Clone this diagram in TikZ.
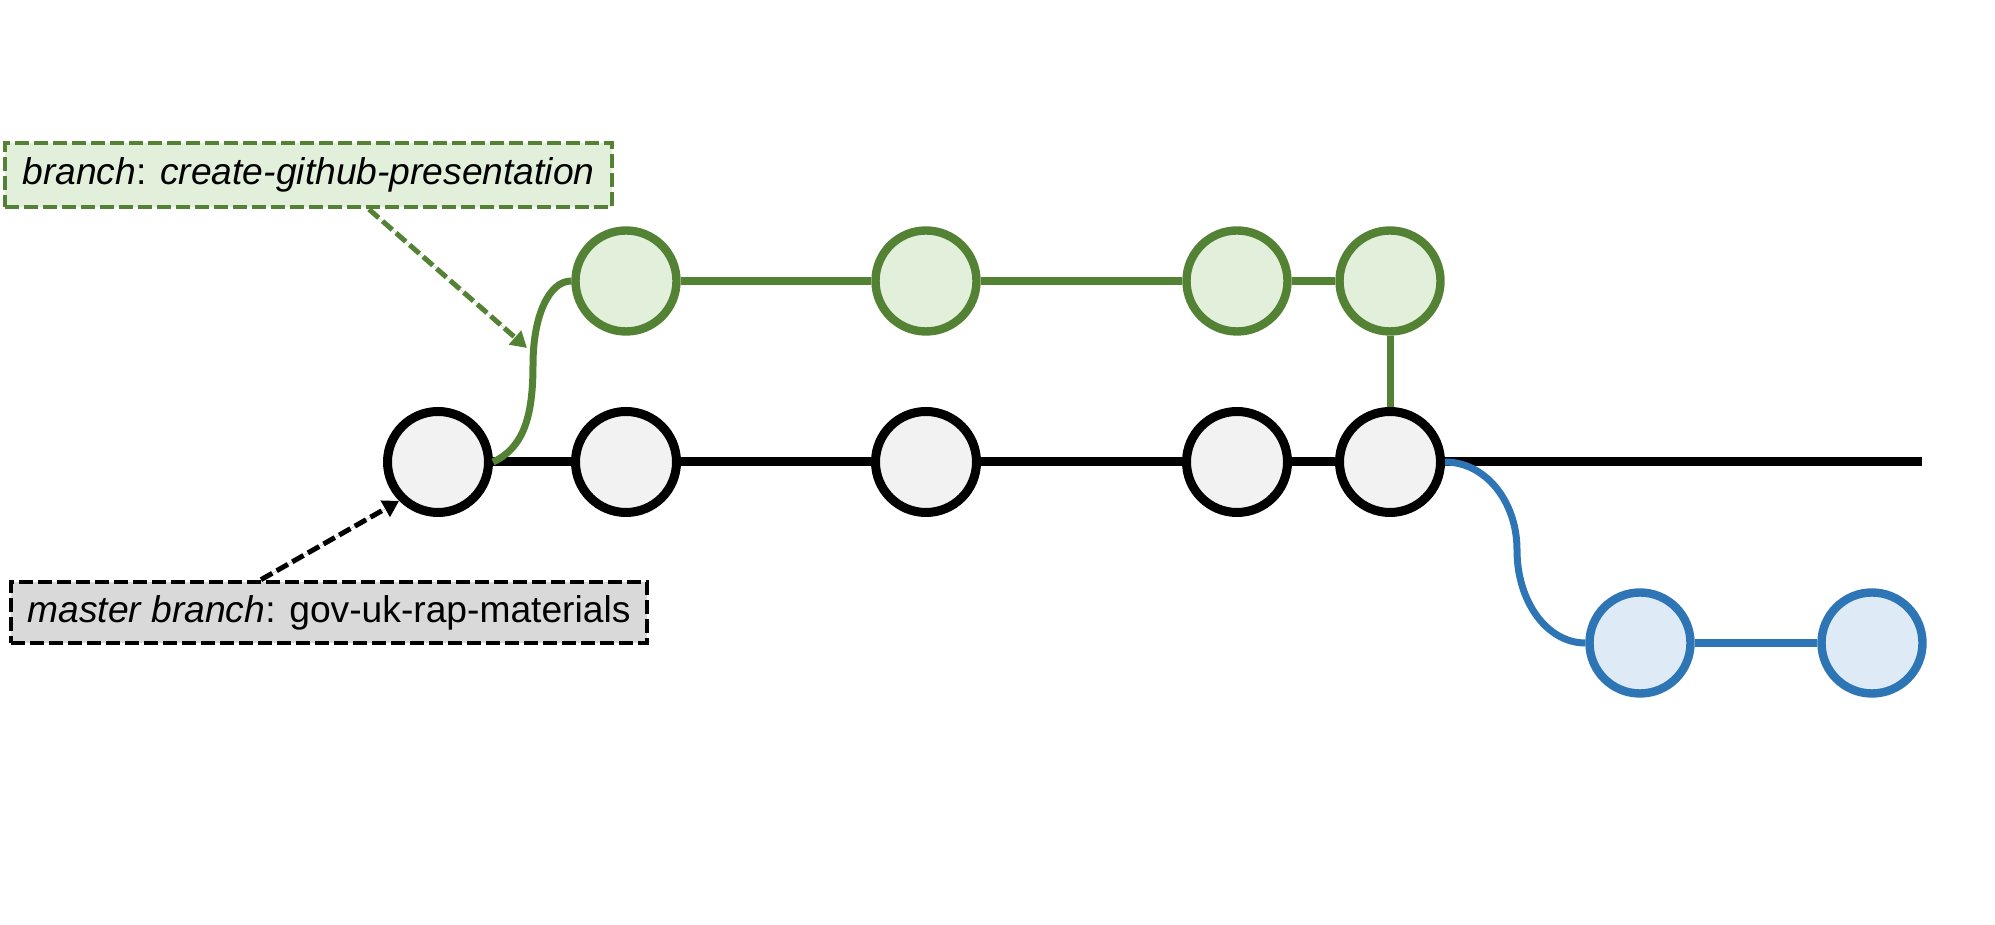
\documentclass[tikz,border=0pt]{standalone}
\usepackage{fontspec}
\setmainfont{Liberation Sans}
\usetikzlibrary{arrows.meta}
\definecolor{gline}{HTML}{548235}
\definecolor{gfill}{HTML}{E2EFDA}
\definecolor{bline}{HTML}{2E75B6}
\definecolor{bfill}{HTML}{DEEBF7}
\definecolor{kfill}{HTML}{F2F2F2}
\definecolor{mfill}{HTML}{D9D9D9}
\begin{document}
\begin{tikzpicture}[x=0.5pt,y=0.5pt,
  commit/.style={circle,inner sep=0pt,minimum size=50.5pt,line width=4.5pt},
  kcommit/.style={commit,draw=black,fill=kfill},
  gcommit/.style={commit,draw=gline,fill=gfill,line width=4.2pt},
  ucommit/.style={commit,draw=bline,fill=bfill,line width=4.2pt},
  kline/.style={draw=black,line width=4.5pt},
  gline/.style={draw=gline,line width=4pt},
  uline/.style={draw=bline,line width=4pt},
  curvy/.style={line width=3.5pt},
  lbox/.style={rectangle,line width=2.3pt,dash pattern=on 7pt off 2.5pt,inner sep=0pt,font=\fontsize{18.6}{22}\selectfont},
  darrow/.style={line width=2.5pt,dash pattern=on 6.5pt off 2.5pt,-{Triangle[length=8pt,width=9pt]}}
]
\useasboundingbox (0,0) rectangle (1995,925);
% master commits
\node[kcommit] (b1) at (438,463) {};
\node[kcommit] (b2) at (626,463) {};
\node[kcommit] (b3) at (926,463) {};
\node[kcommit] (b4) at (1237,463) {};
\node[kcommit] (b5) at (1390,463) {};
% green branch commits
\node[gcommit] (g1) at (626,644) {};
\node[gcommit] (g2) at (926,644) {};
\node[gcommit] (g3) at (1237,644) {};
\node[gcommit] (g4) at (1390,644) {};
% blue commits
\node[ucommit] (u1) at (1640,282) {};
\node[ucommit] (u2) at (1872,282) {};
\coordinate (mend) at (1922,463);
\coordinate (gmid) at (533,560);
\coordinate (umid) at (1517,375);
% lines
\draw[kline] (b1.east) -- (b2.west);
\draw[kline] (b2.east) -- (b3.west);
\draw[kline] (b3.east) -- (b4.west);
\draw[kline] (b4.east) -- (b5.west);
\draw[kline] (b5.east) -- (mend);
\draw[gline] (g1.east) -- (g2.west);
\draw[gline] (g2.east) -- (g3.west);
\draw[gline] (g3.east) -- (g4.west);
\draw[draw=gline,line width=3.5pt] (g4.south) -- (b5.north);
\draw[uline] (u1.east) -- (u2.west);
\draw[draw=gline,curvy] (b1.east)
  to[out=25,in=-90,out looseness=0.8,in looseness=1.3] (gmid)
  to[out=90,in=180,out looseness=1.4,in looseness=0.6] (g1.west);
\draw[draw=bline,curvy] (b5.east)
  to[out=0,in=90,out looseness=0.9,in looseness=1.1] (umid)
  to[out=-90,in=180,out looseness=1.15,in looseness=0.85] (u1.west);
% labels
\node[lbox,draw=gline,fill=gfill,minimum width=303.5pt,minimum height=32pt] (gbox) at (308.5,750)
  {\textit{branch}: \textit{create-github-presentation}};
\node[lbox,draw=black,fill=mfill,minimum width=318pt,minimum height=30.5pt] (mbox) at (329,312.5)
  {\textit{master branch}: gov-uk-rap-materials};
\coordinate (gtip) at (527,577);
\draw[darrow,draw=gline,fill=gline] ([xshift=30.25pt]gbox.south) -- (gtip);
\draw[darrow,draw=black,fill=black] ([xshift=-34pt]mbox.north) -- (b1.225);
\end{tikzpicture}
\end{document}
